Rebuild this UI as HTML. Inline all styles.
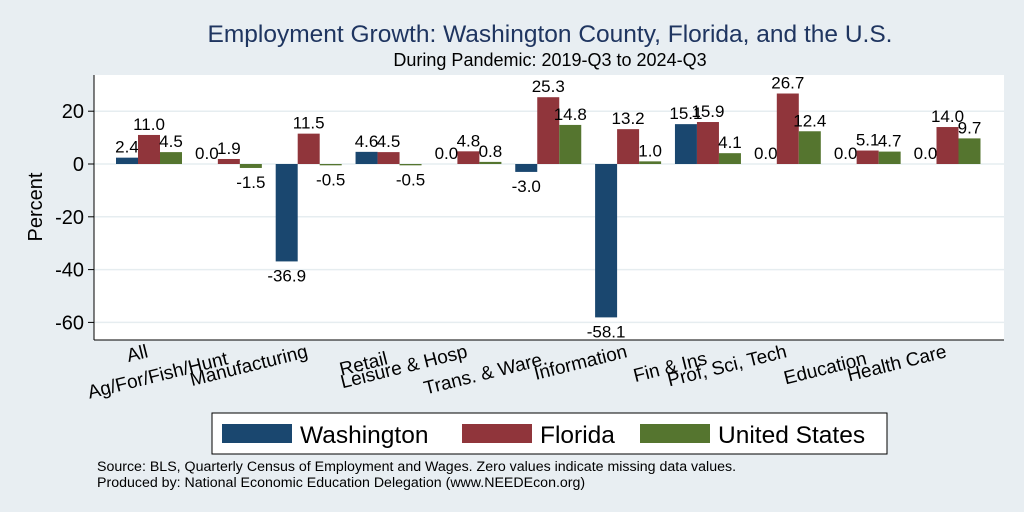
<!DOCTYPE html>
<html><head><meta charset="utf-8"><style>
body{margin:0;background:#e8eef2;font-family:"Liberation Sans",sans-serif;}
svg{display:block}
</style></head><body>
<svg id="c" width="1024" height="512" font-family="Liberation Sans, sans-serif">
<rect width="1024" height="512" fill="#e8eef2"/>
<text x="550" y="42" text-anchor="middle" font-size="24.5" fill="#1f3560">Employment Growth: Washington County, Florida, and the U.S.</text>
<text x="550" y="66" text-anchor="middle" font-size="18" fill="#000">During Pandemic: 2019-Q3 to 2024-Q3</text>
<rect x="94" y="75" width="910" height="265" fill="#fff"/>
<g id="grid"></g><g id="bars"></g><g id="axis"></g>
<text transform="translate(42,207) rotate(-90)" text-anchor="middle" font-size="20">Percent</text>
<g>
<rect x="212" y="413" width="675" height="41" fill="#fff" stroke="#000" stroke-width="1"/>
<rect x="222" y="424" width="70" height="19" fill="#1a476f"/>
<text x="300" y="443" font-size="24.5">Washington</text>
<rect x="462" y="424" width="70" height="19" fill="#90353b"/>
<text x="540" y="443" font-size="24.5">Florida</text>
<rect x="640" y="424" width="70" height="19" fill="#55752f"/>
<text x="718" y="443" font-size="24.5">United States</text>
</g>
<text x="97" y="471" font-size="14.2">Source: BLS, Quarterly Census of Employment and Wages. Zero values indicate missing data values.</text>
<text x="97" y="487" font-size="14.2">Produced by: National Economic Education Delegation (www.NEEDEcon.org)</text>
</svg>
<script>
const categories=["All","Ag/For/Fish/Hunt","Manufacturing","Retail","Leisure & Hosp","Trans. & Ware.","Information","Fin & Ins","Prof, Sci, Tech","Education","Health Care"];
const washington=[2.4,0.0,-36.9,4.6,0.0,-3.0,-58.1,15.1,0.0,0.0,0.0];
const florida=[11.0,1.9,11.5,4.5,4.8,25.3,13.2,15.9,26.7,5.1,14.0];
const unitedStates=[4.5,-1.5,-0.5,-0.5,0.8,14.8,1.0,4.1,12.4,4.7,9.7];
const yTicks=[20,0,-20,-40,-60];
const NS="http://www.w3.org/2000/svg";
const y=v=>164-v*2.64;
const gx=i=>116+i*79.85;
const bw=22;
function mk(tag,at,parent){const e=document.createElementNS(NS,tag);for(const k in at)e.setAttribute(k,at[k]);document.getElementById(parent).appendChild(e);return e;}
yTicks.forEach(t=>{
 const g=mk('line',{x1:94,x2:1004,y1:y(t),y2:y(t),stroke:'#e6edf0','stroke-width':1.5},'grid');
 
 
 const tk=mk('line',{x1:88,x2:94,y1:y(t),y2:y(t),stroke:'#000'},'axis');
 
 
 const tx=mk('text',{x:84,y:y(t)+7,'text-anchor':'end','font-size':20},'axis');
 tx.textContent=t;
 
 
});
const ax=mk('line',{x1:94,x2:94,y1:75,y2:340,stroke:'#000'},'axis');


const bx=mk('line',{x1:94,x2:1004,y1:340,y2:340,stroke:'#000'},'axis');


const series=[[washington,'#1a476f','washington'],[florida,'#90353b','florida'],[unitedStates,'#55752f','us']];
categories.forEach((c,i)=>{
 series.forEach(([arr,col,nm],s)=>{
  const v=arr[i],x0=gx(i)+s*bw;
  const r=mk('rect',{x:x0,y:Math.min(y(v),y(0)),width:bw,height:Math.abs(y(v)-y(0)),fill:col},'bars');
  
  
  const ty=v<0?y(v)+20:y(v)-5;
  const t=mk('text',{x:x0+bw/2,y:ty,'text-anchor':'middle','font-size':17},'bars');
  t.textContent=v.toFixed(1);
  
  
 });
 const cx=gx(i)+33;
 const tl=mk('text',{'text-anchor':'end','font-size':19,transform:`translate(${cx},${i%2===0?357:364}) rotate(-14)`},'axis');
 tl.textContent=c;
 
 
});
</script>
</body></html>
